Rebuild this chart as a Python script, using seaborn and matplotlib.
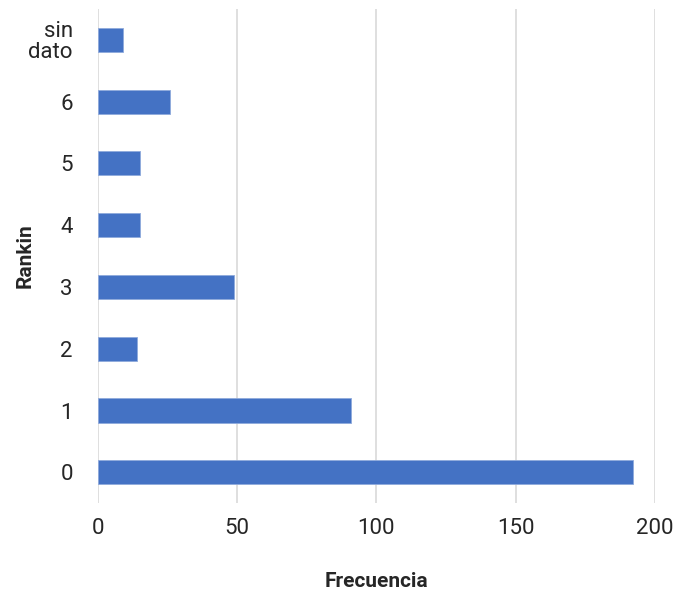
import matplotlib
matplotlib.use("Agg")
import matplotlib.pyplot as plt
import seaborn as sns
import pandas as pd

categories = ["sin\ndato", "6", "5", "4", "3", "2", "1", "0"]
values = [9, 26, 15, 15, 49, 14, 91, 192]
xticks = [0, 50, 100, 150, 200]

sns.set_theme(style="white")
plt.rcParams['font.family'] = ['Roboto', 'DejaVu Sans']

df = pd.DataFrame({"Rankin": categories, "Frecuencia": values})

fig = plt.figure(figsize=(6.9, 5.92), dpi=100)
ax = fig.add_axes([0.142, 0.150, 0.807, 0.835])
sns.barplot(data=df, x="Frecuencia", y="Rankin", order=categories, orient="h",
            color="#4472C4", saturation=1, width=0.39, edgecolor="#8FAADC",
            linewidth=0.6, ax=ax)
ax.set_xlim(0, 200)
ax.set_xticks(xticks)
ax.set_xticklabels([str(t) for t in xticks])
ax.grid(axis="x", color="#D9D9D9", linewidth=1.2)
ax.set_axisbelow(True)
for s in ax.spines.values():
    s.set_visible(False)
ax.tick_params(axis="both", length=0, labelsize=16, colors="#262626")
ax.tick_params(axis="y", pad=18)
ax.tick_params(axis="x", pad=11)
ax.set_xlabel("Frecuencia", fontsize=15, fontweight="bold", color="#262626")
ax.set_ylabel("Rankin", fontsize=15, fontweight="bold", color="#262626")
ax.xaxis.set_label_coords(0.5, -0.158)
ax.yaxis.set_label_coords(-0.131, 0.5)
ax.xaxis.label.set_va("center")
ax.yaxis.label.set_va("center")
for lbl in ax.get_yticklabels():
    lbl.set_linespacing(1.0)

fig.savefig("out.png", dpi=100)
